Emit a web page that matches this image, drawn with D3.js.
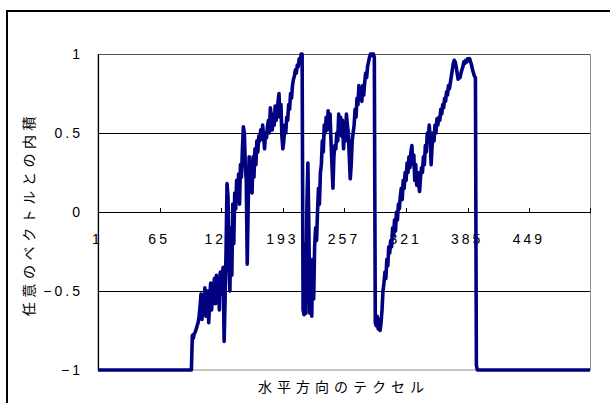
<!DOCTYPE html>
<html>
<head>
<meta charset="utf-8">
<script src="https://cdn.jsdelivr.net/npm/d3@7"></script>
<style>
  html, body { margin: 0; padding: 0; background: #fff; }
  svg { display: block; }
</style>
</head>
<body>
<svg id="chart" width="610" height="403"></svg>
<script>
// ---- data ----
const xTickLabels = [1, 65, 129, 193, 257, 321, 385, 449];
const yTickValues = [-1, -0.5, 0, 0.5, 1];
const xTitle = "水平方向のテクセル";
const yTitle = "任意のベクトルとの内積";

// categories 1..98
const leadValues = [
  -1,-1,-1,-1,-1,-1,-1,-1,-1,-1,
  -1,-1,-1,-1,-1,-1,-1,-1,-1,-1,
  -1,-1,-1,-1,-1,-1,-1,-1,-1,-1,
  -1,-1,-1,-1,-1,-1,-1,-1,-1,-1,
  -1,-1,-1,-1,-1,-1,-1,-1,-1,-1,
  -1,-1,-1,-1,-1,-1,-1,-1,-1,-1,
  -1,-1,-1,-1,-1,-1,-1,-1,-1,-1,
  -1,-1,-1,-1,-1,-1,-1,-1,-1,-1,
  -1,-1,-1,-1,-1,-1,-1,-1,-1,-1,
  -1,-1,-1,-1,-1,-1,-1,-1
];
// categories 99..394
const activeValues = [
  -0.78,-0.80,-0.77,-0.76,-0.74,-0.72,-0.70,-0.66,
  -0.60,-0.52,-0.68,-0.56,-0.62,-0.48,-0.66,-0.58,-0.50,-0.70,-0.55,-0.45,-0.62,-0.52,
  -0.48,-0.42,-0.58,-0.40,-0.50,-0.44,-0.62,-0.38,-0.52,-0.40,
  -0.35,-0.82,-0.55,-0.25,0.18,0.10,-0.30,-0.50,-0.10,-0.40,0.05,-0.20,0.12,
  0.02,0.20,0.10,0.24,0.05,0.30,0.22,0.40,
  0.54,0.50,0.30,
  0.20,-0.33,0.05,0.35,0.15,
  0.28,0.12,0.35,0.22,0.40,0.30,0.45,0.38,
  0.48,0.45,0.52,0.46,0.55,0.48,0.40,0.50,0.47,0.54,
  0.58,0.50,0.66,0.60,0.52,0.62,0.55,0.67,0.58,0.62,
  0.70,0.75,0.60,0.68,0.48,0.40,
  0.45,0.55,0.50,0.60,0.58,0.68,0.65,0.75,0.72,0.80,0.84,
  0.86,0.90,0.88,0.93,0.92,0.97,0.95,1.00,1.00,
  -0.62,
  -0.65,-0.20,-0.64,0.05,0.31,-0.10,-0.64,-0.45,-0.66,-0.30,-0.55,
  -0.22,-0.10,-0.18,0.00,0.15,0.05,0.25,
  0.30,0.45,0.38,0.55,0.50,
  0.60,0.52,0.64,0.55,0.62,0.45,0.30,
  0.15,0.35,0.42,
  0.40,0.50,0.45,0.62,0.55,0.60,0.48,
  0.58,0.40,0.52,0.45,0.62,0.55,
  0.50,0.35,0.21,0.30,0.45,0.50,
  0.55,0.65,0.60,0.72,0.68,0.80,0.75,
  0.78,0.70,0.80,0.74,0.82,
  0.88,0.85,0.92,0.95,0.98,1.00,1.00,0.99,1.00,0.98,
  -0.70,
  -0.72,-0.66,-0.74,-0.68,-0.75,-0.70,-0.62,
  -0.50,-0.45,-0.38,-0.42,-0.30,-0.34,-0.22,-0.26,
  -0.18,-0.22,-0.10,-0.15,-0.05,-0.12,0.00,-0.05,0.05,0.02,0.10,
  0.15,0.08,0.20,0.15,0.25,0.20,0.31,0.25,0.35,0.28,
  0.38,0.42,0.30,0.36,0.20,0.30,0.17,
  0.25,0.18,0.13,0.22,0.28,0.25,
  0.35,0.30,0.42,0.38,0.50,0.45,0.55,0.48,
  0.30,0.42,0.50,0.45,0.55,0.50,0.59,
  0.55,0.60,0.58,0.65,0.62,0.68,0.66,0.72,0.70,0.76,0.74,0.80,0.78,0.82,
  0.86,0.90,0.94,0.96,0.95,0.92,0.88,
  0.84,0.86,0.85,0.88,0.90,
  0.92,0.95,0.94,0.96,0.95,0.97,0.96,0.97,0.95,0.93,
  0.90,0.88,0.86,0.85,
  -0.97
];
// categories 395..512
const tailValues = [
  -1,-1,-1,-1,-1,-1,-1,-1,-1,-1,
  -1,-1,-1,-1,-1,-1,-1,-1,-1,-1,
  -1,-1,-1,-1,-1,-1,-1,-1,-1,-1,
  -1,-1,-1,-1,-1,-1,-1,-1,-1,-1,
  -1,-1,-1,-1,-1,-1,-1,-1,-1,-1,
  -1,-1,-1,-1,-1,-1,-1,-1,-1,-1,
  -1,-1,-1,-1,-1,-1,-1,-1,-1,-1,
  -1,-1,-1,-1,-1,-1,-1,-1,-1,-1,
  -1,-1,-1,-1,-1,-1,-1,-1,-1,-1,
  -1,-1,-1,-1,-1,-1,-1,-1,-1,-1,
  -1,-1,-1,-1,-1,-1,-1,-1,-1,-1,
  -1,-1,-1,-1,-1,-1,-1,-1
];

const values = leadValues.concat(activeValues, tailValues);
const categories = values.map((v, i) => i + 1);

// ---- layout ----
const svg = d3.select("#chart");
const plot = { left: 98, right: 590, top: 54, bottom: 370 };

const x = d3.scaleLinear().domain([1, 512]).range([plot.left, plot.right]);
const y = d3.scaleLinear().domain([-1, 1]).range([plot.bottom, plot.top]);

// outer chart frame
svg.append("rect")
  .attr("x", 7).attr("y", 11)
  .attr("width", 700).attr("height", 500)
  .attr("fill", "#fff").attr("stroke", "#000").attr("stroke-width", 2);

// plot area border (gray)
svg.append("rect")
  .attr("x", plot.left).attr("y", plot.top + 0.5)
  .attr("width", plot.right - plot.left + 0.5)
  .attr("height", plot.bottom - plot.top - 0.5)
  .attr("fill", "#fff").attr("stroke", "#8c8c8c").attr("stroke-width", 1);

// gridlines
const grid = svg.append("g")
  .attr("transform", `translate(${plot.left},0)`)
  .call(d3.axisLeft(y).tickValues([0.5, -0.5, 1]).tickSize(-(plot.right - plot.left)).tickFormat(""));
grid.select(".domain").remove();
grid.selectAll(".tick line")
  .attr("stroke", d => d === 1 ? "#555" : "#000")
  .attr("stroke-width", 1)
  .attr("shape-rendering", "crispEdges");

// category axis at 0
const xAxis = svg.append("g")
  .attr("transform", `translate(0,${y(0)})`)
  .call(d3.axisBottom(x)
    .tickValues(xTickLabels.slice(1).concat([512]))
    .tickSizeInner(-4).tickSizeOuter(0).tickFormat(""));
xAxis.select(".domain").attr("stroke", "#000").attr("shape-rendering", "crispEdges");
xAxis.selectAll(".tick line").attr("stroke", "#000").attr("shape-rendering", "crispEdges");

// category labels
const xLab = svg.append("g")
  .attr("transform", `translate(0,${y(0)})`)
  .call(d3.axisBottom(x).tickValues(xTickLabels).tickSize(0).tickPadding(22).tickFormat(d => String(d)));
xLab.select(".domain").remove();
xLab.selectAll("text")
  .attr("font-family", "'Liberation Sans', Arial, sans-serif")
  .attr("font-size", 14)
  .attr("fill", "#000")
  .style("letter-spacing", "3px")
  .attr("dx", "-1");

// value axis
const yAxis = svg.append("g")
  .attr("transform", `translate(${plot.left},0)`)
  .call(d3.axisLeft(y).tickValues(yTickValues).tickSize(0).tickPadding(15)
    .tickFormat(d => d === 0 ? "0" : String(d).replace("-", "\u2212")));
yAxis.select(".domain").attr("stroke", "#000").attr("stroke-width", 1.2);
yAxis.selectAll("text")
  .attr("font-family", "'Liberation Sans', Arial, sans-serif")
  .attr("font-size", 14)
  .attr("fill", "#000")
  .style("letter-spacing", "3px");

// data line
const line = d3.line()
  .x((d, i) => x(categories[i]))
  .y(d => y(d));
svg.append("path")
  .datum(values)
  .attr("d", line)
  .attr("fill", "none")
  .attr("stroke", "#000080")
  .attr("stroke-width", 3.6)
  .attr("stroke-linejoin", "round");

// axis titles
svg.append("text")
  .attr("x", (plot.left + plot.right) / 2 - 0.5)
  .attr("y", 386)
  .attr("text-anchor", "middle")
  .attr("dominant-baseline", "central")
  .attr("font-family", "'Noto Sans CJK JP', sans-serif")
  .attr("font-size", 14)
  .style("letter-spacing", "5px")
  .attr("fill", "#000")
  .text(xTitle);

svg.append("text")
  .attr("transform", `translate(28,${y(0) + 2}) rotate(-90)`)
  .attr("text-anchor", "middle")
  .attr("dominant-baseline", "central")
  .attr("font-family", "'Noto Sans CJK JP', sans-serif")
  .attr("font-size", 14)
  .style("letter-spacing", "4.6px")
  .attr("fill", "#000")
  .text(yTitle);
</script>
</body>
</html>
